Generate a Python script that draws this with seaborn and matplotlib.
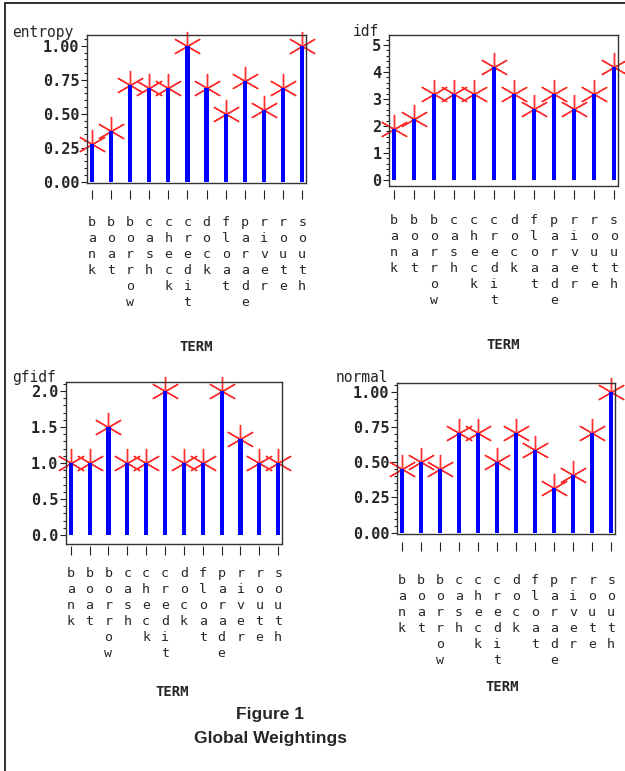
import numpy as np
import pandas as pd
import matplotlib
matplotlib.use("Agg")
import matplotlib.pyplot as plt
from matplotlib.ticker import MultipleLocator, FixedLocator, FormatStrFormatter
from matplotlib.lines import Line2D
import seaborn as sns

# data
terms = ["bank", "boat", "borrow", "cash", "check", "credit",
         "dock", "float", "parade", "river", "route", "south"]
entropy = [0.28, 0.37, 0.71, 0.69, 0.69, 1.00, 0.69, 0.50, 0.74, 0.53, 0.69, 1.00]
idf = [1.9, 2.25, 3.2, 3.2, 3.2, 4.2, 3.2, 2.64, 3.2, 2.64, 3.2, 4.2]
gfidf = [1.0, 1.0, 1.5, 1.0, 1.0, 2.0, 1.0, 1.0, 2.0, 1.34, 1.0, 1.0]
normal = [0.45, 0.50, 0.45, 0.705, 0.705, 0.50, 0.705, 0.586, 0.32, 0.41, 0.705, 1.00]

df = pd.DataFrame({"TERM": terms, "entropy": entropy, "idf": idf,
                   "gfidf": gfidf, "normal": normal})

sns.set_theme(style="ticks")
plt.rcParams["font.family"] = ["DejaVu Sans Mono", "DejaVu Sans"]

W, H = 625, 771
fig = plt.figure(figsize=(W / 100, H / 100), dpi=100)
fig.patch.set_facecolor("white")

# layout in pixels: box = (left, top, right, bottom)
panels = [
    dict(col="entropy", box=(87, 35, 306, 183), ylim=(-0.01, 1.08), major=0.25,
         fmt="%.2f", lab=(12, 33), term=(196, 347), offset=5, pad=12),
    dict(col="idf", box=(389, 35, 618, 186), ylim=(-0.22, 5.37), major=1,
         fmt="%d", lab=(353, 31), term=(503, 345), offset=3, pad=11),
    dict(col="gfidf", box=(66, 382, 282, 544), ylim=(-0.125, 2.125), major=0.5,
         fmt="%.1f", lab=(12, 377), term=(172, 692), offset=1.5, pad=8.5),
    dict(col="normal", box=(397, 383, 615, 534), ylim=(-0.01, 1.064), major=0.25,
         fmt="%.2f", lab=(336, 378), term=(502, 687), offset=6, pad=16),
]

frame_col = "#333333"

for p in panels:
    l, t, r, b = p["box"]
    ax = fig.add_axes([l / W, 1 - b / H, (r - l) / W, (b - t) / H])

    sns.barplot(data=df, x="TERM", y=p["col"], color="#0000ff", width=0.22,
                linewidth=0, saturation=1, zorder=3, ax=ax)
    # star markers on top of each stem, drawn behind the stems
    ax.plot(np.arange(len(df)), df[p["col"]], linestyle="none",
            marker=(6, 2, 0), markersize=21, markeredgewidth=1.0,
            color="#ff3030", clip_on=False, zorder=2)

    ax.set_xlim(-0.25, 11.2)
    ax.set_ylim(*p["ylim"])
    ax.yaxis.set_major_locator(MultipleLocator(p["major"]))
    ax.yaxis.set_minor_locator(FixedLocator(np.arange(0, p["ylim"][1], p["major"] / 5)))
    ax.yaxis.set_major_formatter(FormatStrFormatter(p["fmt"]))

    for s in ax.spines.values():
        s.set_color(frame_col)
        s.set_linewidth(1.0)
    ax.spines["bottom"].set_position(("outward", p["offset"]))
    ax.spines["bottom"].set_visible(False)
    ax.plot([0, 1], [0, 0], transform=ax.transAxes, color=frame_col, lw=1.0,
            clip_on=False, zorder=4)

    ax.tick_params(axis="y", which="major", direction="out", length=4.5, width=0.8,
                   color="#222222", pad=1, labelsize=11)
    ax.tick_params(axis="y", which="minor", direction="out", length=2.5, width=0.8,
                   color="#222222", left=True)
    for lab in ax.get_yticklabels():
        lab.set_fontweight("bold")

    ax.set_xticks(range(len(terms)), labels=["\n".join(w) for w in terms])
    ax.tick_params(axis="x", direction="out", length=6.5, width=0.8, color="#222222",
                   pad=p["pad"], labelsize=9.5)
    for lab in ax.get_xticklabels():
        lab.set_linespacing(1.3)
        lab.set_va("top")

    ax.set_ylabel(p["col"], rotation=0, ha="left", va="center", fontsize=10.5)
    ax.yaxis.set_label_coords(p["lab"][0] / W, 1 - p["lab"][1] / H,
                              transform=fig.transFigure)
    ax.set_xlabel("TERM", fontweight="bold", fontsize=10)
    ax.xaxis.set_label_coords(p["term"][0] / W, 1 - p["term"][1] / H,
                              transform=fig.transFigure)
    ax.xaxis.label.set_va("center")

# outer page frame
fig.add_artist(Line2D([5 / W, 1], [1 - 3 / H, 1 - 3 / H], transform=fig.transFigure,
                      color="#222222", lw=1.3))
fig.add_artist(Line2D([5 / W, 5 / W], [0, 1 - 3 / H], transform=fig.transFigure,
                      color="#222222", lw=1.3))

fig.text(270 / W, 1 - 714.5 / H, "Figure 1", ha="center", va="center",
         family="Liberation Sans", weight="bold", size=12.5)
fig.text(270 / W, 1 - 738.5 / H, "Global Weightings", ha="center", va="center",
         family="Liberation Sans", weight="bold", size=12.5)

fig.savefig("out.png", dpi=100)
